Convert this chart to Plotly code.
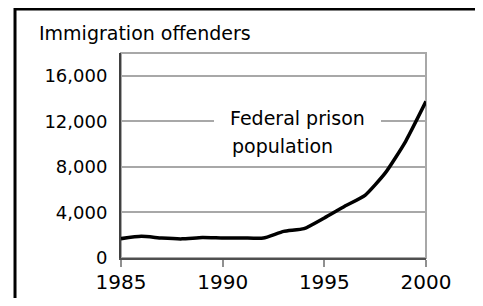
import plotly.graph_objects as go

years = [1985, 1986, 1987, 1988, 1989, 1990, 1991, 1992, 1993, 1994, 1995, 1996, 1997, 1998, 1999, 2000]
offenders = [1700, 1900, 1750, 1680, 1800, 1760, 1760, 1750, 2340, 2580, 3520, 4540, 5500, 7470, 10250, 13750]
y_ticks = [0, 4000, 8000, 12000, 16000]
x_ticks = [1985, 1990, 1995, 2000]
title_text = "Immigration offenders"
label_line1 = "Federal prison"
label_line2 = "population"

FONT = "DejaVu Sans"

fig = go.Figure()
fig.add_trace(go.Scatter(
    x=years, y=offenders, mode="lines",
    line=dict(color="black", width=3.5, shape="spline", smoothing=0.5),
    hoverinfo="skip", showlegend=False,
))

# the page body adds an 8px offset; size kept so the page does not overflow
fig.update_layout(
    width=475, height=290,
    margin=dict(l=113, r=57, t=45, b=40, autoexpand=False),
    paper_bgcolor="white", plot_bgcolor="white",
    showlegend=False,
    xaxis=dict(
        range=[1985, 2000], tickvals=x_ticks, automargin=False,
        showgrid=False, zeroline=False,
        showline=True, linecolor="#505050", linewidth=2,
        ticks="outside", ticklen=7, tickwidth=2, tickcolor="#909090",
        ticklabelstandoff=-2,
        tickfont=dict(family=FONT, size=20, color="black"),
    ),
    yaxis=dict(
        range=[0, 18000], tickvals=y_ticks, tickformat=",d", automargin=False,
        showgrid=True, gridcolor="#a8a8a8", gridwidth=2, zeroline=False,
        showline=True, linecolor="#404040", linewidth=2,
        ticks="", ticklabelstandoff=8,
        tickfont=dict(family=FONT, size=18, color="black"),
    ),
)

# light gray plot box (top/right)
fig.add_shape(type="rect", xref="paper", yref="paper", x0=0, x1=1, y0=0, y1=1,
              line=dict(color="#a8a8a8", width=2), layer="below")
# outer black frame
fig.add_shape(type="rect", xref="paper", yref="paper",
              x0=-0.3475, x1=1.1721, y0=-0.26, y1=1.2146,
              line=dict(color="black", width=3))

fig.add_annotation(text=title_text, xref="paper", yref="paper",
                   x=-0.2746, y=1.0976, xanchor="left", yanchor="middle",
                   showarrow=False, font=dict(family=FONT, size=19, color="black"))

fig.add_annotation(text=label_line1, xref="x", yref="y",
                   x=1993.66, y=12335, xanchor="center", yanchor="middle",
                   showarrow=False, bgcolor="white", borderpad=16, borderwidth=0,
                   font=dict(family=FONT, size=19, color="black"))
fig.add_annotation(text=label_line2, xref="x", yref="y",
                   x=1990.36, y=9850, xanchor="left", yanchor="middle",
                   showarrow=False,
                   font=dict(family=FONT, size=19, color="black"))

fig.write_html("out.html")
